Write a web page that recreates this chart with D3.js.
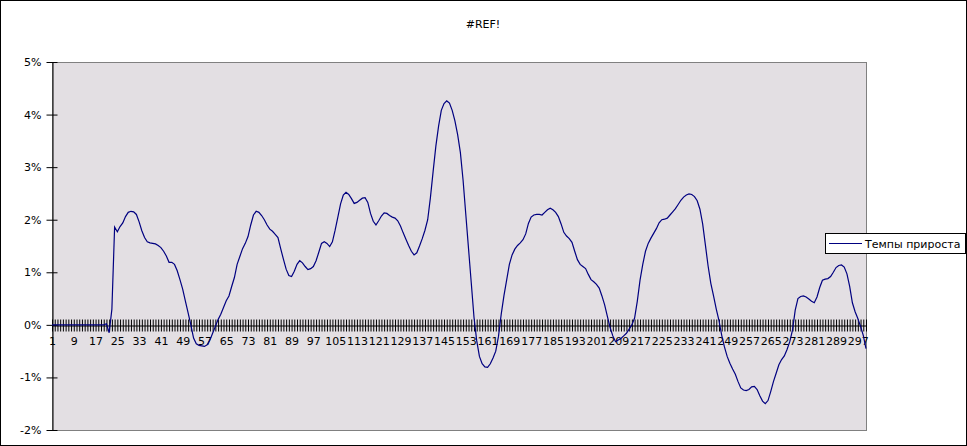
<!DOCTYPE html>
<html>
<head>
<meta charset="utf-8">
<script src="https://cdn.jsdelivr.net/npm/d3@7"></script>
<style>
    body{margin:0;background:#fff;}
    text{font-family:"DejaVu Sans",sans-serif;font-size:11px;fill:#000;}
</style>
</head>
<body>
<svg id="chart" width="967" height="446"></svg>
<script>
/*
growth rate line chart, categories 1..300
 */
var categories=d3.range(1,301);
var growthValues=[
    0,0,0,0,0,0,0,0,0,0,
    0,0,0,0,0,0,0,0,0,0,
    0.02,-0.15,0.3,1.86,1.77,1.87,1.94,2.06,2.14,2.16,
    2.15,2.10,1.96,1.79,1.66,1.58,1.56,1.55,1.54,1.51,
    1.47,1.40,1.31,1.19,1.19,1.15,1.03,0.86,0.68,0.45,
    0.23,0.0,-0.25,-0.36,-0.39,-0.40,-0.41,-0.38,-0.29,-0.16,
    -0.03,0.10,0.20,0.33,0.46,0.55,0.73,0.90,1.15,1.30,
    1.45,1.55,1.68,1.90,2.09,2.16,2.14,2.08,2.00,1.90,
    1.82,1.78,1.72,1.66,1.45,1.25,1.06,0.94,0.92,1.02,
    1.15,1.22,1.18,1.11,1.05,1.07,1.11,1.22,1.38,1.55,
    1.58,1.55,1.49,1.58,1.80,2.05,2.30,2.47,2.52,2.48,
    2.40,2.31,2.33,2.37,2.41,2.42,2.33,2.12,1.97,1.90,
    1.98,2.07,2.13,2.12,2.08,2.05,2.03,1.98,1.88,1.75,
    1.63,1.51,1.40,1.33,1.37,1.50,1.64,1.80,2.00,2.42,
    2.92,3.40,3.78,4.08,4.21,4.26,4.22,4.08,3.88,3.62,
    3.28,2.75,2.10,1.45,0.80,0.15,-0.30,-0.60,-0.74,-0.80,
    -0.81,-0.74,-0.63,-0.50,-0.22,0.20,0.55,0.85,1.15,1.33,
    1.44,1.51,1.56,1.62,1.73,1.93,2.05,2.09,2.10,2.10,
    2.09,2.14,2.19,2.22,2.19,2.14,2.06,1.92,1.76,1.69,
    1.64,1.57,1.40,1.24,1.15,1.11,1.07,0.96,0.86,0.82,
    0.77,0.70,0.55,0.38,0.16,-0.05,-0.21,-0.32,-0.29,-0.26,
    -0.21,-0.16,-0.08,0.0,0.13,0.45,0.85,1.15,1.40,1.55,
    1.65,1.74,1.83,1.94,2.00,2.01,2.03,2.09,2.15,2.21,
    2.29,2.37,2.43,2.47,2.49,2.48,2.44,2.36,2.20,1.92,
    1.52,1.12,0.79,0.55,0.30,0.08,-0.20,-0.42,-0.60,-0.73,
    -0.84,-0.94,-1.08,-1.20,-1.24,-1.25,-1.23,-1.18,-1.17,-1.23,
    -1.35,-1.45,-1.50,-1.44,-1.27,-1.08,-0.92,-0.76,-0.66,-0.59,
    -0.47,-0.32,-0.10,0.28,0.50,0.54,0.55,0.53,0.49,0.45,
    0.42,0.53,0.71,0.85,0.87,0.88,0.92,1.00,1.09,1.13,
    1.14,1.10,0.97,0.73,0.42,0.25,0.12,-0.03,-0.20,-0.45
];
var yTickValues=[-2,-1,0,1,2,3,4,5];
var labelEvery=8;
var chartTitle="#REF!";
var seriesName="Темпы прироста";

var space={"width":967,"height":446,"margin":{"left":52,"right":101,"top":62,"bottom":16}};
var scales={};

function buildScales() {
    var m=space.margin;
    scales["x"]=d3.scalePoint()
        .domain(categories)
        .range([m.left,space.width-m.right]);
    scales["y"]=d3.scaleLinear()
        .domain([d3.min(yTickValues),d3.max(yTickValues)])
        .range([space.height-m.bottom,m.top]);
}

function drawFrame(svg) {
    var m=space.margin;
    //outer border
    svg.append("rect")
        .attr("x",0.5).attr("y",0.5)
        .attr("width",space.width-1).attr("height",space.height-1)
        .attr("fill","#fff").attr("stroke","#000");
    //plot area
    svg.append("rect")
        .attr("x",m.left+0.5).attr("y",m.top+0.5)
        .attr("width",space.width-m.left-m.right)
        .attr("height",space.height-m.top-m.bottom)
        .attr("fill","#e3dfe3").attr("stroke","#808080");
    svg.append("text")
        .attr("x",483).attr("y",28)
        .attr("text-anchor","middle")
        .text(chartTitle);
}

function drawAxes(svg) {
    var xScale=scales["x"], yScale=scales["y"];

    var yAxis=svg.append("g")
        .attr("transform","translate("+(space.margin.left+0.5)+",0)")
        .call(d3.axisLeft(yScale).tickValues(yTickValues).tickSize(0).tickSizeOuter(0)
            .tickPadding(11).tickFormat(function (d) {return d+"%"}));
    yAxis.selectAll(".tick line").attr("x1",-6).attr("x2",5).attr("stroke","#000");
    yAxis.select(".domain").attr("stroke","#000");

    var xAxis=svg.append("g")
        .attr("transform","translate(0,"+(Math.round(yScale(0))+0.5)+")")
        .call(d3.axisBottom(xScale).tickValues(categories).tickSize(0).tickSizeOuter(0)
            .tickFormat(function (d) {return (d-1)%labelEvery===0?d:""}));
    xAxis.selectAll(".tick line").attr("y1",-6).attr("y2",6).attr("stroke","#000");
    xAxis.selectAll(".tick text").attr("y",12);
    xAxis.select(".domain").attr("stroke","#000");

    svg.selectAll(".tick text").attr("font-family",null).attr("font-size",null).attr("fill","#000");
    svg.selectAll("g").attr("font-family",null).attr("font-size",null);
}

function drawSeries(svg) {
    var xScale=scales["x"], yScale=scales["y"];
    var line=d3.line()
        .x(function (d,i) {return xScale(categories[i])})
        .y(function (d) {return yScale(d)});
    svg.append("path")
        .datum(growthValues)
        .attr("d",line)
        .attr("fill","none")
        .attr("stroke","#000080")
        .attr("stroke-width",1.2);
}

function drawLegend(svg) {
    var lg=svg.append("g").attr("transform","translate(825,233)");
    lg.append("rect")
        .attr("x",0.5).attr("y",0.5).attr("width",140).attr("height",20)
        .attr("fill","#fff").attr("stroke","#000");
    lg.append("line")
        .attr("x1",4).attr("x2",37).attr("y1",10.5).attr("y2",10.5)
        .attr("stroke","#000080").attr("stroke-width",1.2);
    lg.append("text").attr("x",40).attr("y",14.5).text(seriesName);
}

function makeChart() {
    var svg=d3.select("#chart");
    buildScales();
    drawFrame(svg);
    drawAxes(svg);
    drawSeries(svg);
    drawLegend(svg);
}
makeChart();
</script>
</body>
</html>
